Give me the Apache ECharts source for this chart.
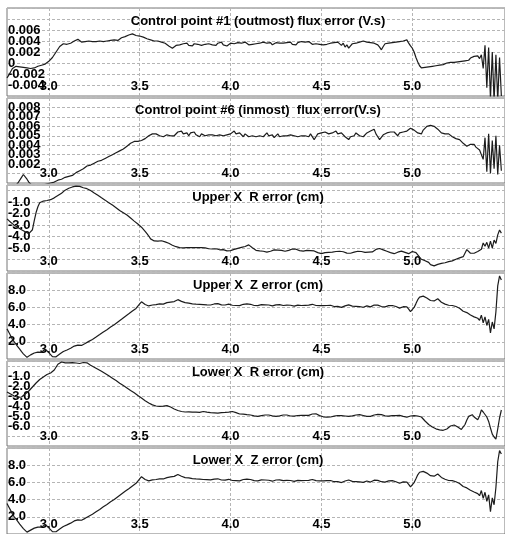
<!DOCTYPE html>
<html>
<head>
<meta charset="utf-8">
<script src="https://cdn.jsdelivr.net/npm/echarts@6/dist/echarts.min.js"></script>
<style>
  html, body { margin: 0; padding: 0; background: #fff; }
  #chart { width: 505px; height: 534px; }
</style>
</head>
<body>
<div id="chart"></div>
<script>
// Sampling of every trace: t = T_START + i * T_STEP (s)
const T_START = 2.77, T_STEP = 0.01;

const xTickValues = [3.0, 3.5, 4.0, 4.5, 5.0];

const titles = [
  'Control point #1 (outmost) flux error (V.s)',
  'Control point #6 (inmost)  flux error(V.s)',
  'Upper X  R error (cm)',
  'Upper X  Z error (cm)',
  'Lower X  R error (cm)',
  'Lower X  Z error (cm)'
];

// y tick labels that are printed on each panel
const yLabels1 = ['0.006', '0.004', '0.002', '0', '-0.002', '-0.004'];
const yLabels2 = ['0.008', '0.007', '0.006', '0.005', '0.004', '0.003', '0.002'];
const yLabels3 = ['-1.0', '-2.0', '-3.0', '-4.0', '-5.0'];
const yLabels4 = ['8.0', '6.0', '4.0', '2.0'];
const yLabels5 = ['-1.0', '-2.0', '-3.0', '-4.0', '-5.0', '-6.0'];
const yLabels6 = ['8.0', '6.0', '4.0', '2.0'];

// Control point #1 flux error (V.s)
const flux1 = [
  -0.0027, -0.0022, -0.0016,
  -0.0010, -0.0008, -0.0006, -0.0008, -0.0007, -0.0009, -0.0008, -0.0010, -0.0009, -0.0011,
  -0.0010, -0.0008, -0.0009, -0.0007, -0.0006, -0.0005, -0.0004, -0.0003, -0.0002, 0.0000,
  0.0003, 0.0006, 0.0010, 0.0015, 0.0020, 0.0025, 0.0030, 0.0032, 0.0035, 0.0036,
  0.0034, 0.0037, 0.0036, 0.0039, 0.0040, 0.0041, 0.0043, 0.0040, 0.0038, 0.0041,
  0.0039, 0.0037, 0.0040, 0.0038, 0.0039, 0.0036, 0.0039, 0.0038, 0.0040, 0.0037,
  0.0039, 0.0038, 0.0040, 0.0039, 0.0041, 0.0040, 0.0042, 0.0043, 0.0041, 0.0044,
  0.0046, 0.0045, 0.0048, 0.0047, 0.0051, 0.0049, 0.0053, 0.0051, 0.0050, 0.0047,
  0.0049, 0.0046, 0.0047, 0.0045, 0.0044, 0.0046, 0.0042, 0.0043, 0.0040, 0.0039,
  0.0040, 0.0037, 0.0038, 0.0036, 0.0036, 0.0033, 0.0031, 0.0029, 0.0027, 0.0030,
  0.0032, 0.0034, 0.0033, 0.0030, 0.0035, 0.0033, 0.0036, 0.0032, 0.0034, 0.0031,
  0.0035, 0.0033, 0.0034, 0.0037, 0.0032, 0.0035, 0.0034, 0.0031, 0.0035, 0.0036,
  0.0033, 0.0035, 0.0032, 0.0036, 0.0034, 0.0038, 0.0033, 0.0035, 0.0031, 0.0034,
  0.0036, 0.0033, 0.0035, 0.0032, 0.0037, 0.0034, 0.0036, 0.0033, 0.0038, 0.0035,
  0.0033, 0.0036, 0.0034, 0.0037, 0.0035, 0.0033, 0.0036, 0.0034, 0.0038, 0.0035,
  0.0036, 0.0034, 0.0037, 0.0033, 0.0035, 0.0037, 0.0034, 0.0036, 0.0033, 0.0036,
  0.0034, 0.0037, 0.0035, 0.0038, 0.0034, 0.0036, 0.0033, 0.0037, 0.0035, 0.0039,
  0.0036, 0.0038, 0.0035, 0.0039, 0.0036, 0.0034, 0.0037, 0.0035, 0.0038, 0.0034,
  0.0036, 0.0033, 0.0030, 0.0034, 0.0031, 0.0036, 0.0033, 0.0037, 0.0034, 0.0038,
  0.0035, 0.0032, 0.0036, 0.0029, 0.0033, 0.0027, 0.0031, 0.0035, 0.0033, 0.0036,
  0.0034, 0.0038, 0.0036, 0.0040, 0.0041, 0.0038, 0.0040, 0.0037, 0.0039, 0.0036,
  0.0038, 0.0033, 0.0029, 0.0024, 0.0030, 0.0035, 0.0033, 0.0036, 0.0034, 0.0037,
  0.0035, 0.0038, 0.0036, 0.0039, 0.0037, 0.0040, 0.0038, 0.0042, 0.0036, 0.0031,
  0.0027, 0.0020, 0.0010, 0.0002, -0.0005, -0.0009, -0.0007, -0.0008, -0.0005, -0.0007,
  -0.0004, -0.0006, -0.0003, -0.0005, -0.0002, -0.0004, -0.0001, -0.0003, -0.0002, 0.0000,
  -0.0002, 0.0001, 0.0003, 0.0001, 0.0004, 0.0002, 0.0005, 0.0003, 0.0006, 0.0004,
  0.0007, 0.0005, 0.0009, 0.0008, 0.0012, 0.0010, 0.0013, 0.0008, 0.0015, -0.0010,
  0.0032, -0.0045, 0.0028, -0.0065, 0.0020, -0.0070, 0.0015, -0.0068, 0.0010, -0.0060
];

// Control point #6 flux error (V.s)
const flux6 = [
  -0.0010, -0.0008, -0.0006,
  -0.0005, -0.0004, -0.0002, 0.0000, 0.0002, 0.0006, 0.0009, 0.0008, 0.0004, 0.0001,
  -0.0001, -0.0003, -0.0004, -0.0005, -0.0004, -0.0003, -0.0003, -0.0002, -0.0002, -0.0001,
  -0.0001, 0.0000, 0.0001, 0.0001, 0.0002, 0.0003, 0.0003, 0.0004, 0.0005, 0.0006,
  0.0006, 0.0007, 0.0008, 0.0008, 0.0010, 0.0011, 0.0012, 0.0013, 0.0014, 0.0015,
  0.0017, 0.0018, 0.0019, 0.0019, 0.0020, 0.0021, 0.0022, 0.0023, 0.0023, 0.0024,
  0.0025, 0.0026, 0.0025, 0.0028, 0.0029, 0.0030, 0.0031, 0.0032, 0.0033, 0.0034,
  0.0035, 0.0036, 0.0038, 0.0039, 0.0040, 0.0042, 0.0043, 0.0044, 0.0045, 0.0044,
  0.0044, 0.0045, 0.0046, 0.0047, 0.0049, 0.0050, 0.0051, 0.0052, 0.0051, 0.0052,
  0.0051, 0.0050, 0.0051, 0.0049, 0.0050, 0.0051, 0.0049, 0.0050, 0.0048, 0.0050,
  0.0052, 0.0054, 0.0053, 0.0055, 0.0052, 0.0051, 0.0053, 0.0050, 0.0053, 0.0052,
  0.0054, 0.0051, 0.0053, 0.0049, 0.0052, 0.0054, 0.0050, 0.0052, 0.0051, 0.0053,
  0.0051, 0.0049, 0.0050, 0.0048, 0.0051, 0.0053, 0.0050, 0.0052, 0.0051, 0.0053,
  0.0052, 0.0054, 0.0055, 0.0052, 0.0050, 0.0053, 0.0051, 0.0049, 0.0052, 0.0050,
  0.0049, 0.0051, 0.0050, 0.0052, 0.0049, 0.0047, 0.0050, 0.0052, 0.0049, 0.0051,
  0.0053, 0.0050, 0.0052, 0.0051, 0.0048, 0.0050, 0.0052, 0.0049, 0.0051, 0.0050,
  0.0048, 0.0050, 0.0052, 0.0051, 0.0053, 0.0050, 0.0052, 0.0049, 0.0051, 0.0050,
  0.0052, 0.0050, 0.0051, 0.0049, 0.0052, 0.0050, 0.0046, 0.0049, 0.0052, 0.0050,
  0.0053, 0.0051, 0.0054, 0.0055, 0.0052, 0.0050, 0.0053, 0.0051, 0.0055, 0.0052,
  0.0050, 0.0053, 0.0051, 0.0049, 0.0048, 0.0046, 0.0049, 0.0047, 0.0050, 0.0053,
  0.0051, 0.0050, 0.0052, 0.0049, 0.0051, 0.0053, 0.0052, 0.0055, 0.0054, 0.0057,
  0.0052, 0.0049, 0.0046, 0.0048, 0.0051, 0.0049, 0.0053, 0.0051, 0.0054, 0.0052,
  0.0054, 0.0052, 0.0050, 0.0053, 0.0051, 0.0054, 0.0056, 0.0055, 0.0057, 0.0058,
  0.0059, 0.0056, 0.0054, 0.0053, 0.0055, 0.0052, 0.0056, 0.0058, 0.0060, 0.0062,
  0.0061, 0.0059, 0.0060, 0.0058, 0.0057, 0.0055, 0.0053, 0.0051, 0.0052, 0.0050,
  0.0052, 0.0050, 0.0049, 0.0048, 0.0047, 0.0048, 0.0046, 0.0044, 0.0042, 0.0040,
  0.0039, 0.0040, 0.0041, 0.0040, 0.0041, 0.0038, 0.0037, 0.0035, 0.0033, 0.0025,
  0.0048, 0.0012, 0.0052, 0.0010, 0.0045, 0.0015, 0.0050, 0.0009, 0.0040, 0.0013
];

// Upper X-point R error (cm)
const upperR = [
  -2.45, -2.60, -2.75,
  -2.90, -3.00, -3.10, -3.20, -3.30, -3.40, -3.50, -3.58, -3.66, -3.74,
  -3.85, -3.40, -2.60, -1.90, -1.40, -1.05, -0.95, -0.90, -0.88, -0.85,
  -0.82, -0.78, -0.72, -0.62, -0.52, -0.42, -0.32, -0.22, -0.10, 0.05,
  0.15, 0.22, 0.30, 0.33, 0.36, 0.40, 0.42, 0.38, 0.30, 0.26,
  0.22, 0.18, 0.12, 0.02, -0.10, -0.20, -0.30, -0.40, -0.52, -0.62,
  -0.72, -0.82, -0.92, -1.05, -1.15, -1.25, -1.35, -1.48, -1.60, -1.72,
  -1.82, -1.92, -2.02, -2.12, -2.25, -2.38, -2.52, -2.65, -2.78, -2.90,
  -3.02, -3.18, -3.35, -3.55, -3.75, -3.95, -4.20, -4.30, -4.38, -4.42,
  -4.40, -4.38, -4.36, -4.40, -4.46, -4.52, -4.58, -4.66, -4.75, -4.82,
  -4.88, -4.92, -4.96, -5.00, -4.98, -4.95, -4.97, -4.94, -4.96, -4.93,
  -4.95, -4.92, -4.96, -5.00, -4.97, -5.02, -4.98, -5.04, -5.06, -5.02,
  -5.08, -5.10, -5.06, -5.12, -5.15, -5.18, -5.14, -5.20, -5.24, -5.27,
  -5.22, -5.18, -5.12, -5.08, -5.03, -4.98, -4.94, -4.90, -4.86, -4.82,
  -4.72, -4.85, -4.98, -5.10, -5.20, -5.27, -5.25, -5.30, -5.28, -5.33,
  -5.36, -5.32, -5.28, -5.22, -5.16, -5.12, -5.18, -5.24, -5.20, -5.26,
  -5.28, -5.24, -5.20, -5.14, -5.08, -5.04, -5.10, -5.16, -5.22, -5.26,
  -5.27, -5.24, -5.20, -5.26, -5.22, -5.18, -5.25, -5.32, -5.40, -5.46,
  -5.49, -5.44, -5.40, -5.44, -5.38, -5.42, -5.36, -5.32, -5.30, -5.34,
  -5.28, -5.27, -5.32, -5.38, -5.44, -5.48, -5.45, -5.40, -5.36, -5.32,
  -5.28, -5.26, -5.30, -5.34, -5.38, -5.40, -5.36, -5.40, -5.34, -5.22,
  -5.12, -5.06, -5.04, -5.08, -5.16, -5.24, -5.28, -5.34, -5.40, -5.46,
  -5.49, -5.44, -5.36, -5.30, -5.27, -5.32, -5.38, -5.44, -5.49, -5.40,
  -5.30, -5.27, -5.40, -5.60, -5.80, -5.98, -6.05, -6.10, -6.12, -6.25,
  -6.45, -6.60, -6.55, -6.48, -6.42, -6.38, -6.33, -6.30, -6.28, -6.24,
  -6.18, -6.15, -6.12, -6.05, -5.98, -5.90, -5.86, -5.80, -5.75, -5.60,
  -5.13, -5.30, -5.45, -5.40, -5.45, -5.35, -5.30, -5.27, -5.10, -4.56,
  -4.84, -4.50, -5.00, -4.40, -5.00, -4.30, -4.60, -3.85, -3.42, -3.70
];

// Upper X-point Z error (cm)
const upperZ = [
  3.50, 3.10, 2.70,
  2.27, 1.98, 1.70, 1.42, 1.14, 0.85, 0.60, 0.40, 0.19, 0.30,
  0.48, 0.57, 0.70, 0.87, 0.80, 0.72, 0.78, 0.95, 1.14, 1.00,
  0.75, 0.55, 0.27, 0.19, 0.25, 0.40, 0.57, 0.70, 0.87, 0.95,
  1.05, 1.14, 1.25, 1.33, 1.50, 1.70, 1.62, 1.52, 1.58, 1.72,
  1.80, 1.90, 2.05, 2.18, 2.27, 2.42, 2.55, 2.70, 2.84, 3.00,
  3.15, 3.30, 3.41, 3.58, 3.72, 3.88, 3.98, 4.15, 4.30, 4.50,
  4.62, 4.78, 4.95, 5.11, 5.25, 5.40, 5.57, 5.70, 5.88, 6.06,
  6.40, 6.65, 6.45, 6.33, 6.25, 6.17, 6.20, 6.28, 6.22, 6.33,
  6.30, 6.40, 6.44, 6.38, 6.48, 6.55, 6.50, 6.62, 6.55, 6.68,
  6.75, 6.90, 6.97, 6.70, 6.63, 6.55, 6.44, 6.50, 6.38, 6.42,
  6.33, 6.38, 6.44, 6.36, 6.28, 6.33, 6.25, 6.30, 6.36, 6.28,
  6.33, 6.40, 6.36, 6.44, 6.38, 6.30, 6.36, 6.28, 6.33, 6.38,
  6.33, 6.25, 6.17, 6.22, 6.28, 6.20, 6.30, 6.36, 6.33, 6.40,
  6.44, 6.36, 6.30, 6.22, 6.28, 6.20, 6.26, 6.32, 6.25, 6.30,
  6.33, 6.28, 6.22, 6.17, 6.24, 6.30, 6.26, 6.33, 6.28, 6.22,
  6.30, 6.26, 6.33, 6.25, 6.20, 6.14, 6.20, 6.26, 6.30, 6.22,
  6.28, 6.24, 6.30, 6.26, 6.33, 6.36, 6.30, 6.22, 6.16, 6.20,
  6.14, 6.20, 6.26, 6.22, 6.17, 6.25, 6.20, 6.10, 6.05, 6.12,
  6.06, 6.00, 6.10, 6.18, 6.26, 6.30, 6.22, 6.15, 6.20, 6.12,
  6.17, 6.08, 6.14, 6.02, 6.10, 6.18, 6.12, 6.06, 6.20, 6.28,
  6.33, 6.26, 6.18, 6.10, 6.14, 6.06, 6.12, 6.20, 6.14, 6.22,
  6.17, 6.10, 6.02, 5.92, 6.00, 6.08, 6.14, 6.06, 5.80, 5.50,
  5.55, 6.00, 6.44, 6.90, 7.20, 7.25, 7.31, 7.25, 7.10, 7.00,
  6.80, 6.63, 6.75, 6.90, 7.00, 6.85, 6.60, 6.44, 6.38, 6.32,
  6.25, 6.20, 6.22, 6.14, 6.10, 6.05, 5.90, 5.70, 5.55, 5.49,
  5.40, 5.30, 5.11, 5.00, 4.90, 4.80, 4.74, 4.50, 5.10, 4.20,
  4.90, 3.90, 4.60, 3.03, 4.30, 3.50, 5.49, 8.50, 9.66, 9.20
];

// Lower X-point R error (cm)
const lowerR = [
  -2.60, -2.70, -2.80,
  -2.90, -3.00, -3.10, -3.15, -3.20, -3.10, -2.95, -2.80, -2.65, -2.50,
  -2.30, -2.10, -1.90, -1.70, -1.55, -1.35, -1.20, -1.10, -1.00, -0.85,
  -0.78, -0.70, -0.55, -0.40, -0.20, 0.17, 0.30, 0.40, 0.36, 0.32,
  0.34, 0.32, 0.30, 0.33, 0.28, 0.30, 0.26, 0.25, 0.30, 0.35,
  0.40, 0.32, 0.17, 0.08, -0.02, -0.12, -0.22, -0.32, -0.42, -0.52,
  -0.64, -0.75, -0.87, -0.98, -1.10, -1.22, -1.34, -1.46, -1.58, -1.72,
  -1.85, -1.96, -2.08, -2.20, -2.32, -2.45, -2.57, -2.68, -2.82, -2.95,
  -3.08, -3.20, -3.35, -3.48, -3.58, -3.70, -3.82, -3.89, -3.95, -4.00,
  -4.02, -4.04, -4.06, -4.02, -3.98, -3.96, -3.99, -4.10, -4.20, -4.30,
  -4.38, -4.45, -4.52, -4.55, -4.58, -4.60, -4.56, -4.58, -4.62, -4.61,
  -4.58, -4.62, -4.60, -4.64, -4.58, -4.55, -4.58, -4.61, -4.63, -4.66,
  -4.64, -4.68, -4.70, -4.71, -4.68, -4.66, -4.70, -4.64, -4.62, -4.61,
  -4.57, -4.55, -4.60, -4.66, -4.72, -4.80, -4.78, -4.82, -4.85, -4.87,
  -4.87, -4.90, -4.95, -4.98, -5.02, -5.04, -5.00, -4.96, -4.92, -4.90,
  -4.87, -4.90, -4.94, -4.98, -5.02, -5.04, -5.02, -4.98, -4.94, -4.90,
  -4.87, -4.90, -4.95, -5.00, -5.04, -5.02, -4.98, -4.95, -4.92, -4.94,
  -4.96, -4.94, -4.92, -4.94, -4.88, -4.80, -4.71, -4.78, -4.88, -4.96,
  -5.04, -5.08, -5.10, -5.12, -5.14, -5.10, -5.06, -5.02, -4.98, -4.95,
  -4.94, -4.96, -4.98, -5.00, -5.02, -5.04, -5.02, -4.98, -4.94, -4.90,
  -4.88, -4.87, -4.90, -4.95, -5.00, -5.04, -5.07, -5.04, -4.98, -4.90,
  -4.86, -4.84, -4.81, -4.86, -4.92, -4.98, -5.04, -5.02, -4.98, -4.96,
  -4.94, -4.96, -4.98, -4.94, -4.98, -5.04, -5.08, -5.12, -5.14, -5.00,
  -4.94, -4.96, -4.98, -5.00, -5.04, -5.10, -5.30, -5.50, -5.65, -5.85,
  -6.01, -6.10, -6.20, -6.28, -6.34, -6.38, -6.40, -6.43, -6.38, -6.30,
  -6.20, -6.00, -5.85, -5.90, -6.00, -6.10, -6.25, -6.34, -6.20, -5.85,
  -5.40, -5.04, -4.95, -4.87, -5.10, -5.25, -5.37, -5.00, -4.38, -4.60,
  -4.71, -5.10, -5.54, -6.20, -6.82, -7.10, -7.31, -6.30, -5.20, -4.40
];

// Lower X-point Z error (cm)
const lowerZ = [
  3.55, 3.15, 2.75,
  2.30, 2.00, 1.72, 1.45, 1.15, 0.88, 0.62, 0.40, 0.22, 0.30,
  0.45, 0.55, 0.68, 0.85, 0.80, 0.74, 0.80, 0.96, 1.10, 0.98,
  0.72, 0.50, 0.28, 0.20, 0.26, 0.42, 0.58, 0.72, 0.88, 0.96,
  1.06, 1.15, 1.26, 1.35, 1.52, 1.72, 1.64, 1.54, 1.60, 1.74,
  1.82, 1.92, 2.06, 2.20, 2.30, 2.44, 2.58, 2.72, 2.86, 3.02,
  3.16, 3.32, 3.44, 3.60, 3.74, 3.90, 4.00, 4.16, 4.32, 4.52,
  4.64, 4.80, 4.96, 5.12, 5.26, 5.42, 5.58, 5.72, 5.90, 6.08,
  6.42, 6.66, 6.46, 6.34, 6.26, 6.18, 6.22, 6.30, 6.24, 6.34,
  6.32, 6.42, 6.46, 6.40, 6.50, 6.56, 6.52, 6.64, 6.56, 6.70,
  6.78, 6.92, 6.98, 6.72, 6.64, 6.56, 6.46, 6.52, 6.40, 6.44,
  6.34, 6.40, 6.46, 6.38, 6.30, 6.34, 6.26, 6.32, 6.38, 6.30,
  6.30, 6.38, 6.34, 6.42, 6.36, 6.28, 6.34, 6.26, 6.30, 6.36,
  6.30, 6.22, 6.15, 6.20, 6.26, 6.18, 6.28, 6.34, 6.30, 6.38,
  6.42, 6.34, 6.28, 6.20, 6.26, 6.18, 6.24, 6.30, 6.22, 6.28,
  6.30, 6.25, 6.20, 6.14, 6.22, 6.28, 6.24, 6.30, 6.26, 6.20,
  6.28, 6.24, 6.30, 6.22, 6.18, 6.12, 6.18, 6.24, 6.28, 6.20,
  6.26, 6.22, 6.28, 6.24, 6.30, 6.34, 6.28, 6.20, 6.14, 6.18,
  6.12, 6.18, 6.24, 6.20, 6.15, 6.22, 6.18, 6.08, 6.02, 6.10,
  6.04, 5.98, 6.08, 6.16, 6.24, 6.28, 6.20, 6.12, 6.18, 6.10,
  6.14, 6.06, 6.12, 6.00, 6.08, 6.16, 6.10, 6.04, 6.18, 6.26,
  6.30, 6.24, 6.16, 6.08, 6.12, 6.04, 6.10, 6.18, 6.12, 6.20,
  6.14, 6.08, 6.00, 5.90, 5.98, 6.06, 6.12, 6.04, 5.78, 5.48,
  5.52, 5.98, 6.42, 6.88, 7.18, 7.24, 7.28, 7.22, 7.08, 6.98,
  6.78, 6.60, 6.72, 6.88, 6.98, 6.82, 6.58, 6.42, 6.36, 6.30,
  6.22, 6.18, 6.20, 6.12, 6.08, 6.02, 5.88, 5.68, 5.52, 5.46,
  5.36, 5.26, 5.08, 4.98, 4.88, 4.78, 4.70, 4.45, 5.05, 4.15,
  4.85, 3.80, 4.55, 2.60, 4.20, 3.40, 5.40, 8.40, 9.70, 9.30
];

const toPairs = ys => ys.map((v, i) => [+(T_START + i * T_STEP).toFixed(2), v]);

// Stacked panels: grid placement, y scale and printed labels
const panels = [
  { data: flux1,  top: 8,   height: 88, min: -0.006, max: 0.010, interval: 0.002, labels: yLabels1, dec: 3, titleY: 21 },
  { data: flux6,  top: 98,  height: 85, min: 0,      max: 0.009, interval: 0.001, labels: yLabels2, dec: 3, titleY: 110 },
  { data: upperR, top: 185, height: 86, min: -7,     max: 0.5,   interval: 1,     labels: yLabels3, dec: 1, titleY: 197 },
  { data: upperZ, top: 273, height: 86, min: 0,      max: 10,    interval: 2,     labels: yLabels4, dec: 1, titleY: 285 },
  { data: lowerR, top: 361, height: 85, min: -8,     max: 0.5,   interval: 1,     labels: yLabels5, dec: 1, titleY: 372 },
  { data: lowerZ, top: 448, height: 86, min: 0,      max: 10,    interval: 2,     labels: yLabels6, dec: 1, titleY: 460 }
];

const FONT = 'Liberation Sans, Arial, Helvetica, sans-serif';
const labelStyle = { color: '#000', fontWeight: 'bold', fontSize: 13, fontFamily: FONT };
const gridLine = { show: true, lineStyle: { color: '#b5b5b5', width: 1, type: [3, 2] } };

const fmt = (v, dec) => {
  if (Math.abs(v) < 1e-12) return '0';
  return v.toFixed(dec);
};

const option = {
  animation: false,
  backgroundColor: '#fff',
  grid: panels.map(p => ({
    left: 7, width: 501, top: p.top, height: p.height,
    show: true, borderColor: '#777', borderWidth: 1, backgroundColor: 'transparent'
  })),
  xAxis: panels.map((p, i) => ({
    type: 'value', gridIndex: i, min: 2.77, max: 5.51,
    axisLine: { show: false },
    axisTick: { show: false, customValues: xTickValues },
    axisLabel: {
      inside: true, margin: 3, customValues: xTickValues,
      formatter: v => v.toFixed(1), ...labelStyle
    },
    splitLine: gridLine
  })),
  yAxis: panels.map((p, i) => ({
    type: 'value', gridIndex: i, min: p.min, max: p.max, interval: p.interval,
    axisLine: { show: false }, axisTick: { show: false },
    axisLabel: {
      inside: true, margin: 1, showMinLabel: true, showMaxLabel: true,
      formatter: v => { const s = fmt(v, p.dec); return p.labels.includes(s) ? s : ''; },
      ...labelStyle
    },
    splitLine: gridLine
  })),
  series: panels.map((p, i) => ({
    type: 'line', xAxisIndex: i, yAxisIndex: i,
    data: toPairs(p.data), showSymbol: false, symbol: 'none', clip: true,
    lineStyle: { color: '#1c1c1c', width: 1.2 }
  })),
  graphic: panels.map((p, i) => ({
    type: 'text', x: 258, y: p.titleY, z: 10,
    style: {
      text: titles[i], fill: '#000', align: 'center', verticalAlign: 'middle',
      font: 'bold 13px ' + FONT
    }
  }))
};

const chart = echarts.init(document.getElementById('chart'), null, { renderer: 'canvas' });
chart.setOption(option);
</script>
</body>
</html>
